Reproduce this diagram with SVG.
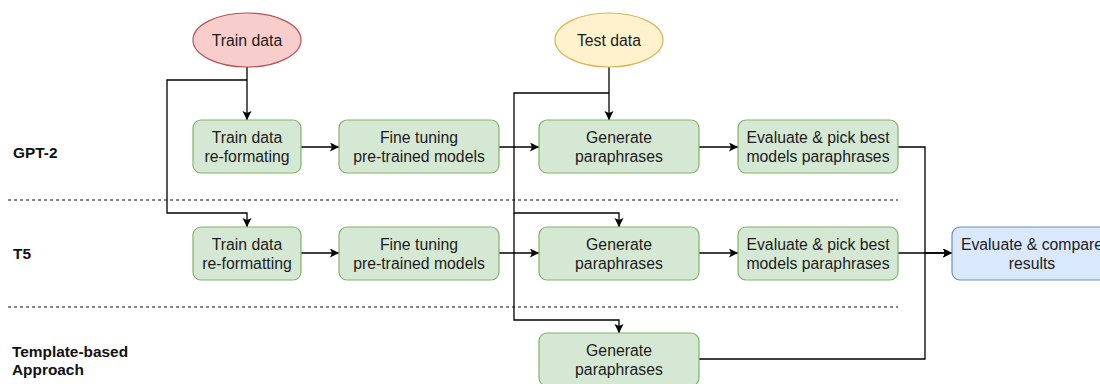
<svg xmlns="http://www.w3.org/2000/svg" width="1100" height="384" viewBox="0 0 1100 384">
  <style>
    .step { fill: #d5e8d4; stroke: #82b366; stroke-width: 1.2; }
    .train { fill: #f8cecc; stroke: #b85450; stroke-width: 1.2; }
    .test { fill: #fff2cc; stroke: #d6b656; stroke-width: 1.2; }
    .result { fill: #dae8fc; stroke: #6c8ebf; stroke-width: 1.2; }
    .lbl { font-family: "Liberation Sans", Arial, Helvetica, sans-serif; font-size: 15.8px; fill: #1c1c1c; text-anchor: middle; }
    .lane { font-family: "Liberation Sans", Arial, Helvetica, sans-serif; font-size: 15.4px; font-weight: bold; fill: #111; }
    .sep { stroke: #111; stroke-width: 1.2; stroke-dasharray: 3 3; fill: none; }
    .edge { stroke: #000; stroke-width: 1.3; fill: none; }
    .edge.arrow { marker-end: url(#head); }
  </style>
  <defs>
    <marker id="head" markerUnits="userSpaceOnUse" markerWidth="10" markerHeight="10" refX="9" refY="4.5" orient="auto">
      <path d="M0,0 L9,4.5 L0,9 L2,4.5 Z" fill="#000"/>
    </marker>
  </defs>

  <rect width="1100" height="384" fill="#fff"/>

  <!-- lane separators -->
  <g id="separators">
    <line class="sep" x1="8" y1="200" x2="898" y2="200"/>
    <line class="sep" x1="8" y1="307" x2="898" y2="307"/>
  </g>

  <!-- lane titles -->
  <g id="lane-gpt2"><text class="lane" x="13" y="158">GPT-2</text></g>
  <g id="lane-t5"><text class="lane" x="13" y="259">T5</text></g>
  <g id="lane-template">
    <text class="lane" x="12" y="357">Template-based</text>
    <text class="lane" x="12" y="375">Approach</text>
  </g>

  <!-- connectors -->
  <g id="connectors">
    <path class="edge arrow" d="M247,67 V120"/>
    <path class="edge arrow" d="M247,80 H167 V213 H247 V227"/>
    <path class="edge arrow" d="M301,147 H339"/>
    <path class="edge arrow" d="M499,147 H539"/>
    <path class="edge arrow" d="M609,67 V120"/>
    <path class="edge arrow" d="M609,93 H514 V213 H619 V227"/>
    <path class="edge arrow" d="M514,213 V320 H619 V333"/>
    <path class="edge arrow" d="M699,147 H738"/>
    <path class="edge arrow" d="M301,253 H339"/>
    <path class="edge arrow" d="M499,253 H539"/>
    <path class="edge arrow" d="M699,253 H738"/>
    <path class="edge arrow" d="M898,147 H925 V253 H952"/>
    <path class="edge arrow" d="M898,253 H952"/>
    <path class="edge" d="M699,359 H925 V253"/>
  </g>

  <!-- inputs -->
  <g id="train-data">
    <ellipse class="train" cx="247" cy="40" rx="54" ry="27"/>
    <text class="lbl" x="247" y="45.5">Train data</text>
  </g>
  <g id="test-data">
    <ellipse class="test" cx="609" cy="40" rx="54" ry="27"/>
    <text class="lbl" x="609" y="45.5">Test data</text>
  </g>

  <!-- GPT-2 lane -->
  <g id="gpt2-reformat">
    <rect class="step" x="193" y="120" width="108" height="53" rx="8"/>
    <text class="lbl" x="247" y="142.5">Train data</text>
    <text class="lbl" x="247" y="161.5">re-formating</text>
  </g>
  <g id="gpt2-finetune">
    <rect class="step" x="339" y="120" width="160" height="53" rx="8"/>
    <text class="lbl" x="419" y="142.5">Fine tuning</text>
    <text class="lbl" x="419" y="161.5">pre-trained models</text>
  </g>
  <g id="gpt2-generate">
    <rect class="step" x="539" y="120" width="160" height="53" rx="8"/>
    <text class="lbl" x="619" y="142.5">Generate</text>
    <text class="lbl" x="619" y="161.5">paraphrases</text>
  </g>
  <g id="gpt2-evaluate">
    <rect class="step" x="738" y="120" width="160" height="53" rx="8"/>
    <text class="lbl" x="818" y="142.5">Evaluate &amp; pick best</text>
    <text class="lbl" x="818" y="161.5">models paraphrases</text>
  </g>

  <!-- T5 lane -->
  <g id="t5-reformat">
    <rect class="step" x="193" y="227" width="108" height="53" rx="8"/>
    <text class="lbl" x="247" y="249.5">Train data</text>
    <text class="lbl" x="247" y="268.5">re-formatting</text>
  </g>
  <g id="t5-finetune">
    <rect class="step" x="339" y="227" width="160" height="53" rx="8"/>
    <text class="lbl" x="419" y="249.5">Fine tuning</text>
    <text class="lbl" x="419" y="268.5">pre-trained models</text>
  </g>
  <g id="t5-generate">
    <rect class="step" x="539" y="227" width="160" height="53" rx="8"/>
    <text class="lbl" x="619" y="249.5">Generate</text>
    <text class="lbl" x="619" y="268.5">paraphrases</text>
  </g>
  <g id="t5-evaluate">
    <rect class="step" x="738" y="227" width="160" height="53" rx="8"/>
    <text class="lbl" x="818" y="249.5">Evaluate &amp; pick best</text>
    <text class="lbl" x="818" y="268.5">models paraphrases</text>
  </g>

  <!-- template lane -->
  <g id="template-generate">
    <rect class="step" x="539" y="333" width="160" height="53" rx="8"/>
    <text class="lbl" x="619" y="355.5">Generate</text>
    <text class="lbl" x="619" y="374.5">paraphrases</text>
  </g>

  <!-- final comparison -->
  <g id="compare-results">
    <rect class="result" x="952" y="227" width="160" height="53" rx="8"/>
    <text class="lbl" x="1032" y="249.5">Evaluate &amp; compare</text>
    <text class="lbl" x="1032" y="268.5">results</text>
  </g>
</svg>
